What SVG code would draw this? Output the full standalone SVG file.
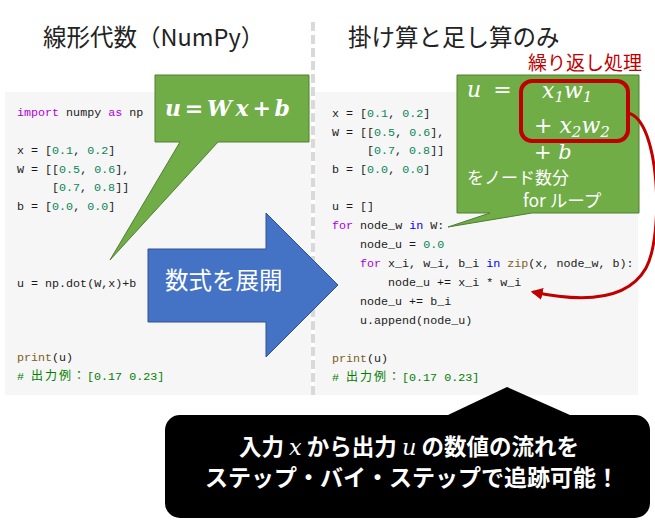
<svg xmlns="http://www.w3.org/2000/svg" width="655" height="524" viewBox="0 0 655 524">
<style>
.title{font-family:"Noto Sans CJK JP","Noto Sans",sans-serif;font-size:23.5px;fill:#222}
.code{font-family:"Liberation Mono","Noto Sans CJK JP",monospace;font-size:11.7px;fill:#1a1a1a}
.kw{fill:#af00db}.num{fill:#098658}.fn{fill:#795e26}.cm{fill:#008000}.bl{fill:#0000ff}
.cjk{font-family:"Noto Sans CJK JP",sans-serif;font-size:12px;letter-spacing:2px}
.math{font-family:"DejaVu Serif","Liberation Serif",serif;font-style:italic;fill:#fff}
.up{font-style:normal}
.wj{font-family:"Noto Sans CJK JP","Noto Sans",sans-serif;fill:#fff}
.panel{fill:#f6f6f6}
</style>
<defs>
<marker id="ah" viewBox="0 0 10 10" refX="8" refY="5" markerWidth="4" markerHeight="4" orient="auto" markerUnits="strokeWidth">
<path d="M0,0 L10,5 L0,10 Z" fill="#c00000"/>
</marker>
</defs>
<rect width="655" height="524" fill="#fff"/>

<g id="left-panel">
<rect class="panel" x="5" y="92" width="306" height="303"/>
<text class="title" x="43" y="46">線形代数（NumPy）</text>
<text class="code" x="17" y="116"><tspan class="kw">import</tspan> numpy <tspan class="kw">as</tspan> np</text>
<text class="code" x="17" y="154">x = [<tspan class="num">0.1</tspan>, <tspan class="num">0.2</tspan>]</text>
<text class="code" x="17" y="172.5">W = [[<tspan class="num">0.5</tspan>, <tspan class="num">0.6</tspan>],</text>
<text class="code" x="52" y="191">[<tspan class="num">0.7</tspan>, <tspan class="num">0.8</tspan>]]</text>
<text class="code" x="17" y="209.5">b = [<tspan class="num">0.0</tspan>, <tspan class="num">0.0</tspan>]</text>
<text class="code" x="17" y="287">u = np.dot(W,x)+b</text>
<text class="code" x="17" y="361"><tspan class="fn">print</tspan>(u)</text>
<text class="code cm" x="17" y="380"># <tspan class="cjk">出力例：</tspan>[0.17 0.23]</text>
</g>

<g id="divider">
<line x1="313" y1="22" x2="313" y2="398" stroke="#d9d9d9" stroke-width="4" stroke-dasharray="9,4"/>
</g>

<g id="right-panel">
<rect class="panel" x="315" y="92" width="323" height="303"/>
<text class="title" x="348" y="46">掛け算と足し算のみ</text>
<text class="code" x="332" y="117">x = [<tspan class="num">0.1</tspan>, <tspan class="num">0.2</tspan>]</text>
<text class="code" x="332" y="135.5">W = [[<tspan class="num">0.5</tspan>, <tspan class="num">0.6</tspan>],</text>
<text class="code" x="367" y="154">[<tspan class="num">0.7</tspan>, <tspan class="num">0.8</tspan>]]</text>
<text class="code" x="332" y="172.5">b = [<tspan class="num">0.0</tspan>, <tspan class="num">0.0</tspan>]</text>
<text class="code" x="332" y="210">u = []</text>
<text class="code" x="332" y="229"><tspan class="kw">for</tspan> node_w <tspan class="bl">in</tspan> W:</text>
<text class="code" x="360" y="248">node_u = <tspan class="num">0.0</tspan></text>
<text class="code" x="360" y="267"><tspan class="kw">for</tspan> x_i, w_i, b_i <tspan class="bl">in</tspan> <tspan class="fn">zip</tspan>(x, node_w, b):</text>
<text class="code" x="388" y="286">node_u += x_i * w_i</text>
<text class="code" x="360" y="305">node_u += b_i</text>
<text class="code" x="360" y="324">u.append(node_u)</text>
<text class="code" x="332" y="362"><tspan class="fn">print</tspan>(u)</text>
<text class="code cm" x="332" y="381"># <tspan class="cjk">出力例：</tspan>[0.17 0.23]</text>
</g>

<g id="callout-formula">
<path d="M155,75 H309 V142 H218 L110,260 L180,142 H155 Z" fill="#70ad47" stroke="#507e32" stroke-width="1"/>
<text class="math" x="165" y="116" font-size="22" font-weight="bold" textLength="125" lengthAdjust="spacing">u<tspan class="up">=</tspan>Wx<tspan class="up">+</tspan>b</text>
</g>

<g id="expand-arrow">
<path d="M148,249 H266 V213 L338,285 L266,357 V322 H148 Z" fill="#4472c4" stroke="#2f528f" stroke-width="1"/>
<text class="wj" x="165" y="289" font-size="23.5">数式を展開</text>
</g>

<g id="callout-loop">
<path d="M457,75 H639 V213 H532 L448,227 L490,213 H457 Z" fill="#70ad47" stroke="#507e32" stroke-width="1"/>
<text class="math" x="467" y="97" font-size="22">u<tspan class="up" dx="12">=</tspan></text>
<text class="math" x="542" y="98" font-size="22">x<tspan font-size="15" dy="4">1</tspan><tspan dy="-4">w</tspan><tspan font-size="15" dy="4">1</tspan></text>
<text class="math" x="534" y="133" font-size="22"><tspan class="up">+</tspan> x<tspan font-size="15" dy="4">2</tspan><tspan dy="-4">w</tspan><tspan font-size="15" dy="4">2</tspan></text>
<text class="math" x="534" y="159" font-size="21"><tspan class="up">+</tspan> b</text>
<text class="wj" x="467" y="183.5" font-size="17">をノード数分</text>
<text class="wj" x="523" y="207" font-size="17.5">for ループ</text>
</g>

<g id="loop-box">
<rect x="521" y="81" width="107" height="60" rx="11" fill="none" stroke="#c00000" stroke-width="4"/>
<text x="528" y="70" font-family="Noto Sans CJK JP, sans-serif" font-size="19" fill="#c00000">繰り返し処理</text>
</g>

<g id="connectors">
<path d="M628,113 C660,120 664,235 646,268 C628,300 585,303 533,292" fill="none" stroke="#c00000" stroke-width="3" marker-end="url(#ah)"/>
</g>

<g id="callout-summary">
<path d="M180,415 H448 L507,387 L570,415 H635 A15,15 0 0 1 650,430 V503 A15,15 0 0 1 635,518 H180 A15,15 0 0 1 165,503 V430 A15,15 0 0 1 180,415 Z" fill="#000"/>
<text x="409" y="455" text-anchor="middle" font-family="Noto Sans CJK JP, sans-serif" font-size="22.5" font-weight="bold" fill="#fff">入力 <tspan font-family="DejaVu Serif, serif" font-style="italic" font-weight="normal">x</tspan> から出力 <tspan font-family="DejaVu Serif, serif" font-style="italic" font-weight="normal">u</tspan> の数値の流れを</text>
<text x="412" y="486" text-anchor="middle" font-family="Noto Sans CJK JP, sans-serif" font-size="23" font-weight="bold" fill="#fff">ステップ・バイ・ステップで追跡可能！</text>
</g>
</svg>
